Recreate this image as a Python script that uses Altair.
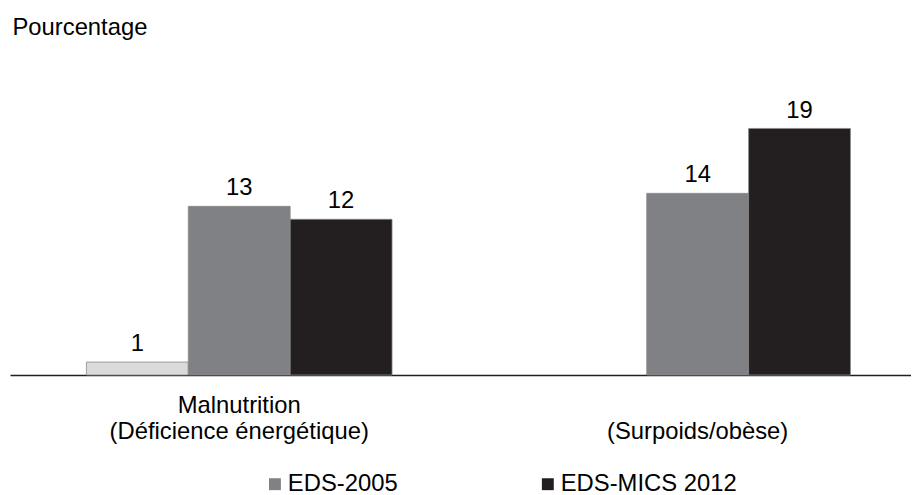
import altair as alt
import pandas as pd

categories = ["Malnutrition|(Déficience énergétique)", "|(Surpoids/obèse)"]
series = ["Autre", "EDS-2005", "EDS-MICS 2012"]
colors = ["#d9dadb", "#808184", "#231f20"]
legend_series = ["EDS-2005", "EDS-MICS 2012"]

rows_cat = [categories[0], categories[0], categories[0], categories[1], categories[1]]
rows_ser = ["Autre", "EDS-2005", "EDS-MICS 2012", "EDS-2005", "EDS-MICS 2012"]
rows_val = [1, 13, 12, 14, 19]

df = pd.DataFrame({"cat": rows_cat, "serie": rows_ser, "val": rows_val})

FONT = "Liberation Sans"
FS = 24

x_enc = alt.X(
    "cat:N",
    sort=categories,
    scale=alt.Scale(paddingInner=1/3, paddingOuter=0.1494, align=0.558),
    axis=alt.Axis(
        title=None,
        labelExpr="split(datum.label, '|')",
        labelAngle=0,
        labelFont=FONT,
        labelFontSize=FS,
        labelColor="black",
        labelLineHeight=26,
        labelBaseline="top",
        labelPadding=19,
        labelLimit=600,
        ticks=False,
        tickSize=0,
        domain=True,
        domainColor="#231f20",
        domainWidth=1.5,
        grid=False,
    ),
)
xoff = alt.XOffset("serie:N", sort=series, scale=alt.Scale(domain=series, paddingInner=0, paddingOuter=0))
y_enc = alt.Y(
    "val:Q",
    scale=alt.Scale(domain=[0, 25], nice=False),
    axis=alt.Axis(
        title="Pourcentage",
        titleAngle=0,
        titleX=2,
        titleY=-16,
        titleAlign="left",
        titleBaseline="alphabetic",
        titleFont=FONT,
        titleFontSize=FS,
        titleFontWeight="normal",
        titleColor="black",
        labels=False,
        ticks=False,
        domain=False,
        grid=False,
    ),
)

bars = alt.Chart(df).mark_bar(stroke="#8a8a8a", strokeWidth=0.8).encode(
    x=x_enc,
    xOffset=xoff,
    y=y_enc,
    color=alt.Color(
        "serie:N",
        scale=alt.Scale(domain=series, range=colors),
        legend=alt.Legend(
            title=None,
            values=legend_series,
            orient="none",
            legendX=255,
            legendY=425,
            direction="horizontal",
            symbolType="square",
            symbolSize=144,
            symbolStrokeWidth=0,
            labelFont=FONT,
            labelFontSize=FS,
            labelColor="black",
            labelOffset=1,
            labelLimit=400,
            columnPadding=139,
            padding=0,
        ),
    ),
)

labels = alt.Chart(df).mark_text(
    font=FONT, fontSize=FS, color="black", baseline="alphabetic", dy=-11
).encode(
    x=alt.X("cat:N", sort=categories),
    xOffset=alt.XOffset("serie:N", sort=series),
    y="val:Q",
    text="val:Q",
)

chart = alt.layer(bars, labels).properties(
    width=908,
    height=327,
    autosize=alt.AutoSizeParams(type="none"),
    padding={"left": 2, "top": 41, "right": 0, "bottom": 120},
).configure_view(stroke=None)

chart.save("out.html", embed_options={"renderer": "svg", "actions": False})
